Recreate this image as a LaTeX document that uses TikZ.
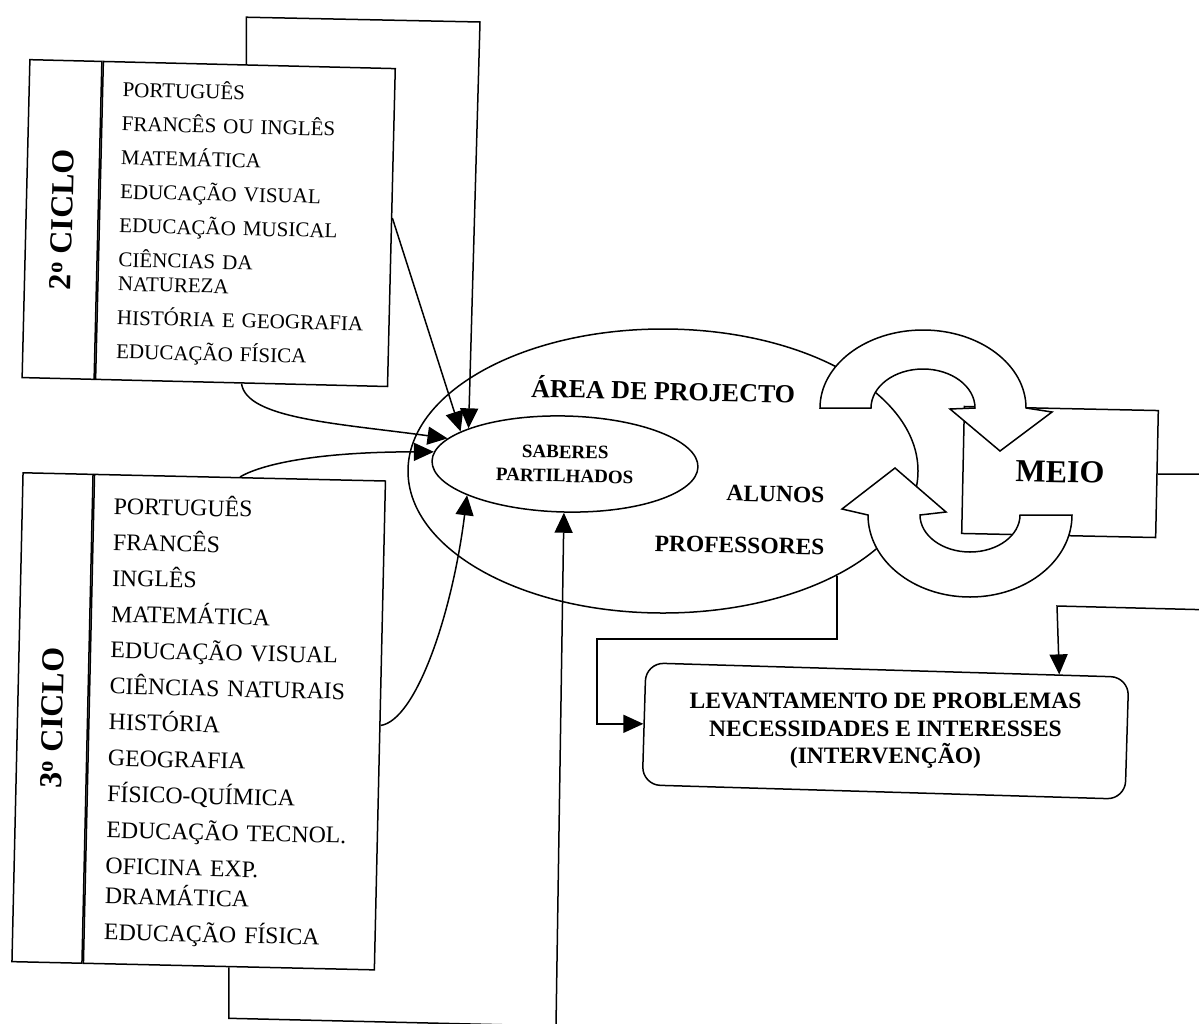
\documentclass[tikz,border=0pt]{standalone}
\usepackage{fontspec}
\setmainfont{Liberation Serif}
\usepackage{graphicx}
\usetikzlibrary{arrows.meta,shapes.geometric,calc}

\begin{document}
\begin{tikzpicture}[x=1pt,y=-1pt,
  line width=1.5pt,
  frame/.style={draw, rectangle, inner sep=0pt, line width=1.5pt},
  cyclelabel/.style={frame, font=\bfseries\fontsize{32}{32}\selectfont},
  listtwo/.style={frame, align=left, text width=252pt, minimum width=292pt,
    minimum height=318pt, font=\fontsize{21}{24}\selectfont},
  listthree/.style={frame, align=left, text width=251pt, minimum width=291pt,
    minimum height=489pt, font=\fontsize{23.8}{30}\selectfont},
  heading/.style={inner sep=0pt, rotate=-1.3, font=\bfseries\fontsize{26}{30}\selectfont},
  actor/.style={inner sep=0pt, rotate=-1.3, font=\bfseries\fontsize{23.5}{28}\selectfont},
  conn/.style={draw, line width=1.5pt, -{Triangle[length=20pt,width=18pt]}},
  blockarrow/.style={draw, fill=white, line width=1.5pt, line join=miter}
]
\useasboundingbox (0,0) rectangle (1199,1023);
\clip (0,0) rectangle (1199,1023);

% ---- 2nd cycle subjects ----
\node[cyclelabel, rotate=-1.4, minimum width=72pt, minimum height=318pt] (c2lab) at (62,219.5)
  {\rotatebox{90}{2\textsuperscript{o} CICLO}};
\node[listtwo, rotate=-1.4, anchor=north west] (c2box) at (c2lab.north east)
  {PORTUGUÊS\\[10pt]
   FRANCÊS OU INGLÊS\\[10pt]
   MATEMÁTICA\\[10pt]
   EDUCAÇÃO VISUAL\\[10pt]
   EDUCAÇÃO MUSICAL\\[10pt]
   CIÊNCIAS DA\\
   NATUREZA\\[10pt]
   HISTÓRIA E GEOGRAFIA\\[10pt]
   EDUCAÇÃO FÍSICA};

% ---- 3rd cycle subjects ----
\node[cyclelabel, rotate=-1.3, minimum width=70pt, minimum height=489pt] (c3lab) at (52.5,718)
  {\rotatebox{90}{3\textsuperscript{o} CICLO}};
\node[listthree, rotate=-1.3, anchor=north west] (c3box) at (c3lab.north east)
  {PORTUGUÊS\\[6pt]
   FRANCÊS\\[6pt]
   INGLÊS\\[6pt]
   MATEMÁTICA\\[6pt]
   EDUCAÇÃO VISUAL\\[6pt]
   CIÊNCIAS NATURAIS\\[6pt]
   HISTÓRIA\\[6pt]
   GEOGRAFIA\\[6pt]
   FÍSICO-QUÍMICA\\[6pt]
   EDUCAÇÃO TECNOL.\\[6pt]
   OFICINA EXP.\\
   DRAMÁTICA\\[6pt]
   EDUCAÇÃO FÍSICA};

% ---- project area ----
\node[ellipse, draw, minimum width=510pt, minimum height=284pt, inner sep=0pt] (bigell) at (663,471) {};
\node[ellipse, draw, minimum width=266pt, minimum height=96pt, inner sep=0pt, rotate=-1.3,
  align=center, font=\bfseries\fontsize{19}{24}\selectfont] (sab) at (565,464) {SABERES\\PARTILHADOS};
\node[heading, anchor=base] (area) at (663,400) {ÁREA DE PROJECTO};
\node[actor, anchor=base east] (alunos) at (825,503) {ALUNOS};
\node[actor, anchor=base east] (profs) at (825,555) {PROFESSORES};

% ---- environment ----
\node[frame, rotate=-1.2, minimum width=194pt, minimum height=127pt,
  font=\bfseries\fontsize{32}{32}\selectfont] (meio) at (1060,472) {MEIO};

% ---- intervention ----
\node[frame, rounded corners=18pt, rotate=-1.7, minimum width=483pt, minimum height=122pt]
  (lev) at (885.5,731) {};
\node[align=center, inner sep=0pt, font=\bfseries\fontsize{23.5}{27.5}\selectfont]
  (levtext) at (lev.center) {LEVANTAMENTO DE PROBLEMAS\\NECESSIDADES E INTERESSES\\(INTERVENÇÃO)};

% ---- connectors ----
\draw[conn] ($(c2box.north west)!0.49!(c2box.north east)$) -- ++(0,-47) -- (480,22) -- (sab.161);
\draw[conn] ($(c2box.north east)!0.47!(c2box.south east)$) -- (sab.164);
\draw[conn] (c2box.south) .. controls +(5,35) and +(-110,-15) .. (sab.169);
\draw[conn] (c3box.north) .. controls +(20,-12) and +(-120,0) .. (sab.176);
\draw[conn] (c3box.east) .. controls +(35,-5) and +(-15,120) .. (sab.199);
\draw[conn] (c3box.south) -- ++(0,51) -- (556,1026) -- (sab.south);
\draw[conn] (bigell.-31) |- (597,639) |- (lev.west);
\coordinate (levtop) at ($(lev.north west)!0.855!(lev.north east)$);
\draw[conn] (meio.east) -- (1215,474) -- (1215,610) -- (1057,606) -- (levtop);

% ---- exchange cycle between project area and environment ----
\draw[blockarrow] (820,408) arc[start angle=180, end angle=0, x radius=103pt, y radius=78pt]
  -- (1052,412) -- (1000,451) -- (950,409) -- (975,408)
  arc[start angle=0, end angle=180, x radius=52pt, y radius=39pt] -- cycle;
\draw[blockarrow] (1072,515) arc[start angle=0, end angle=-180, x radius=102pt, y radius=82pt]
  -- (842,509) -- (895,468) -- (946,512) -- (920,515)
  arc[start angle=-180, end angle=0, x radius=50pt, y radius=37pt] -- cycle;
\end{tikzpicture}
\end{document}
